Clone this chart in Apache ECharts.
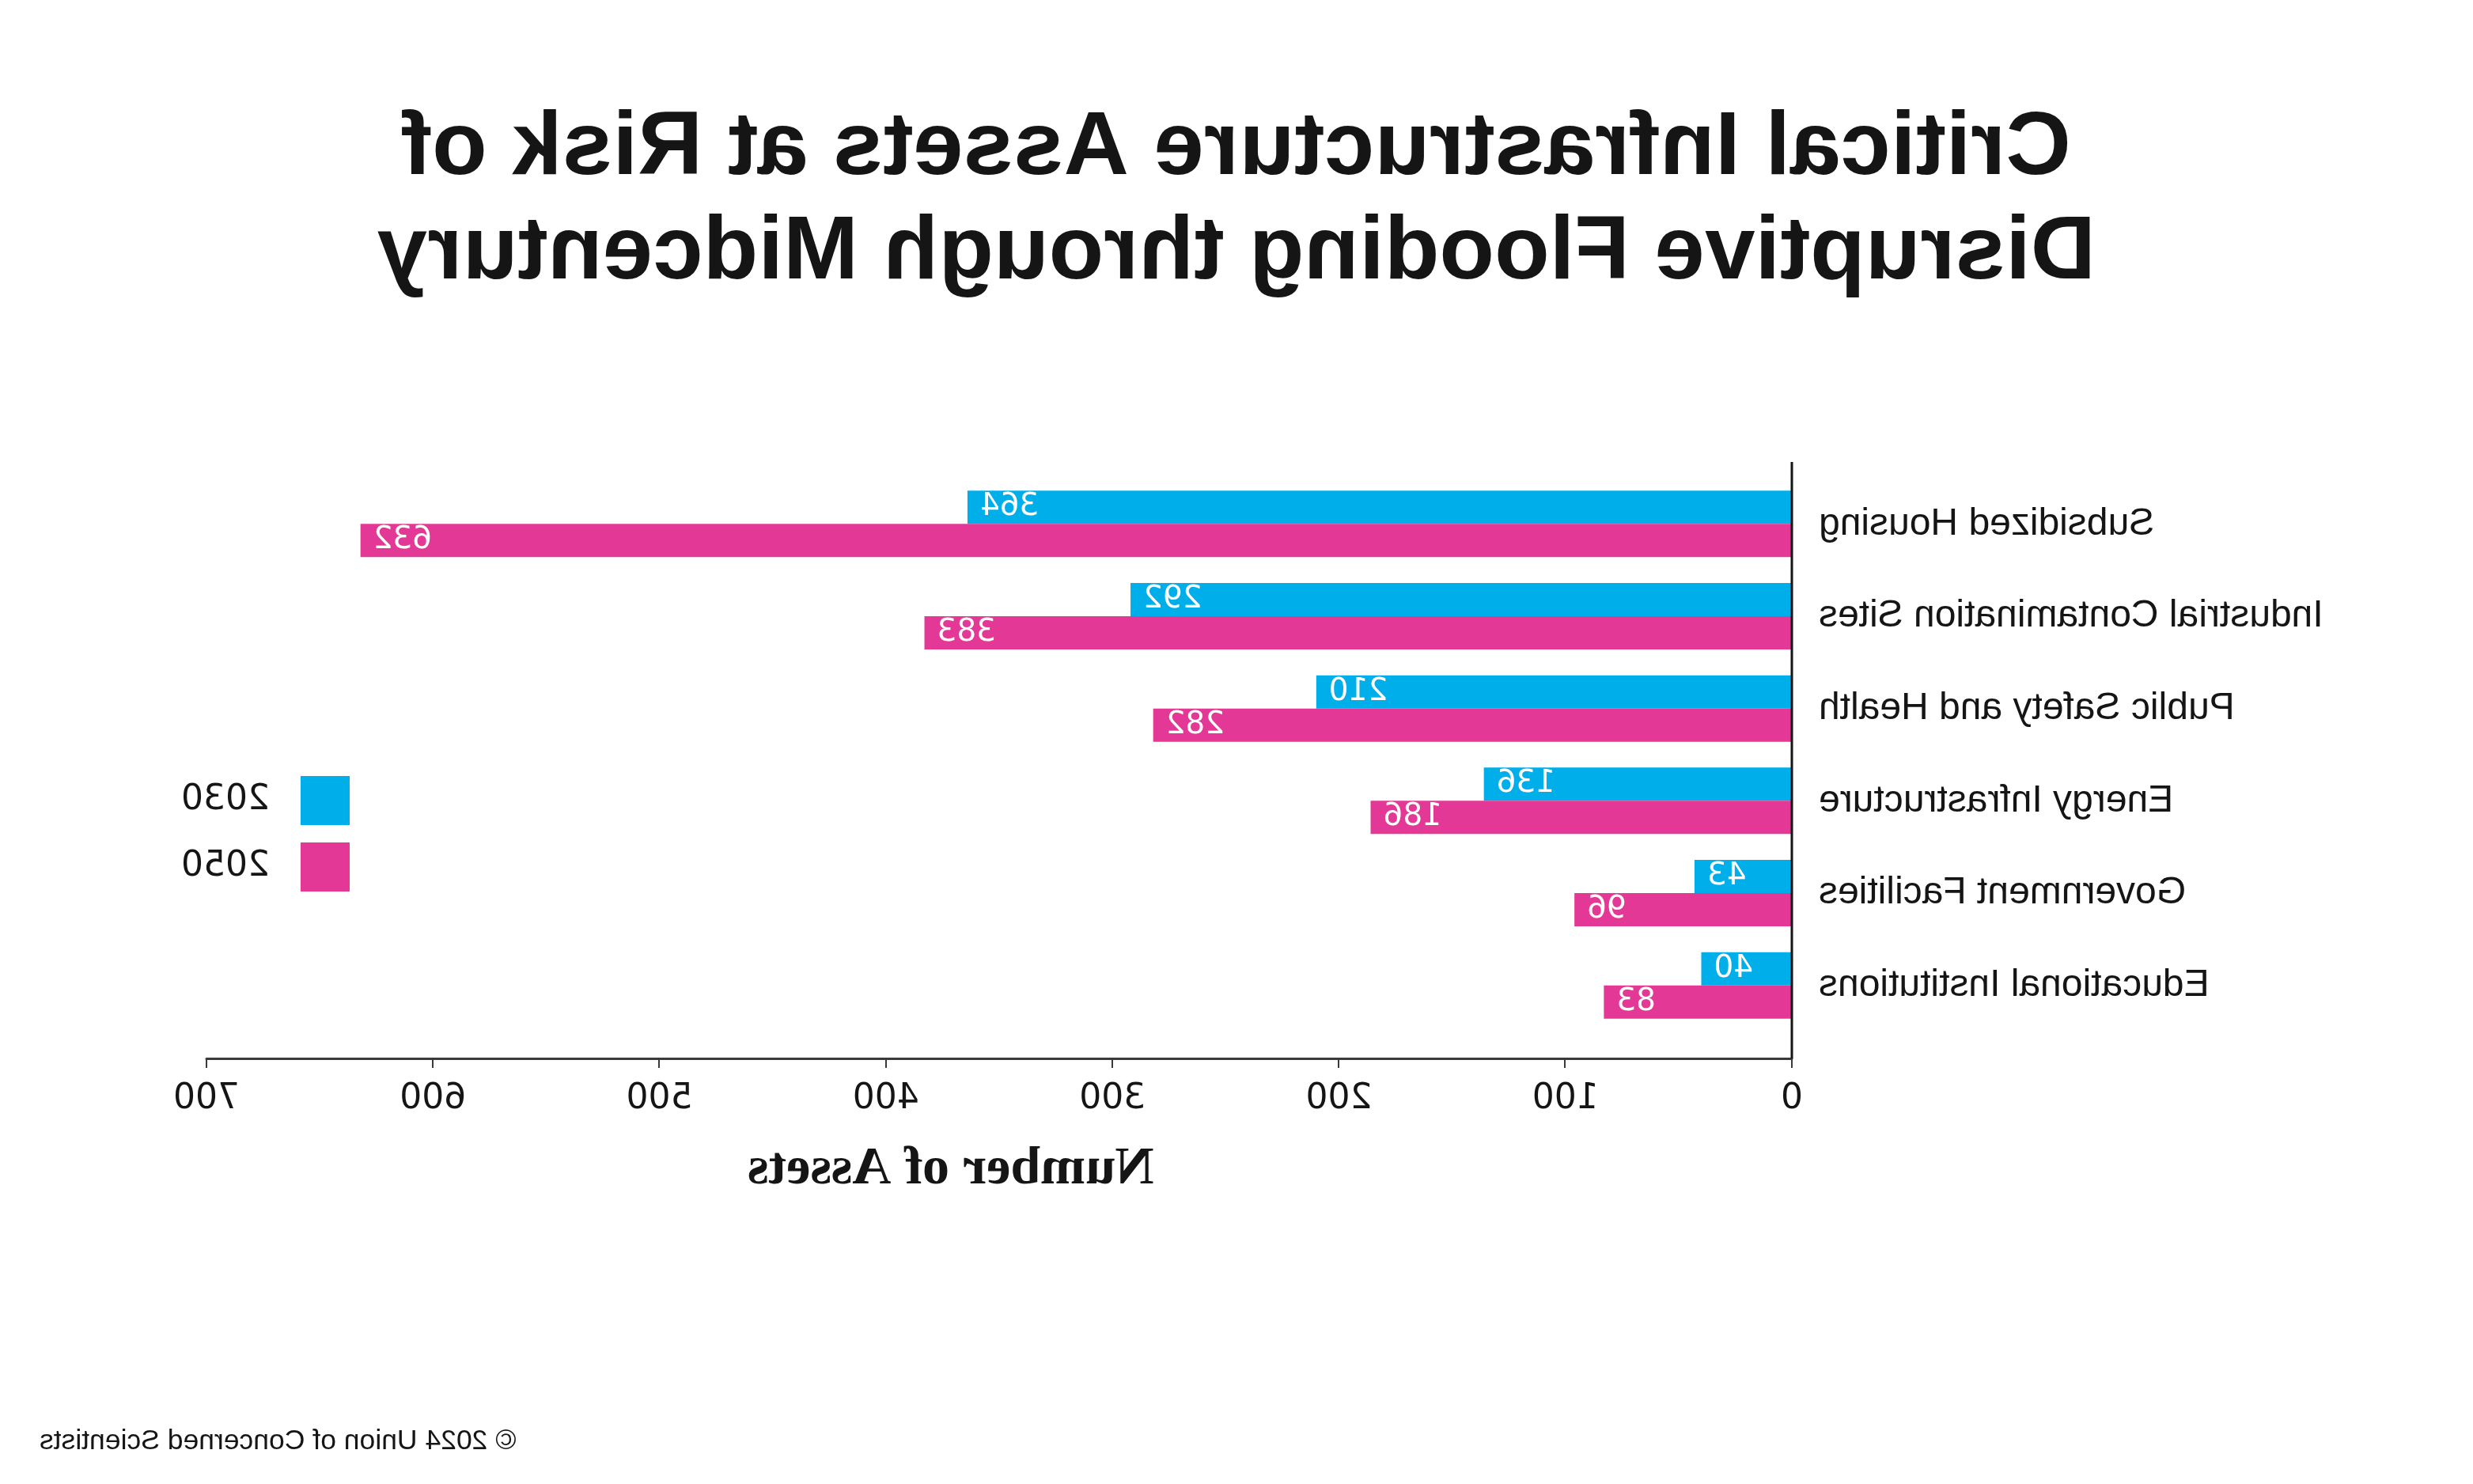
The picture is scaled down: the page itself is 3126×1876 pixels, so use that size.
<!DOCTYPE html>
<html>
<head>
<meta charset="utf-8">
<script src="https://cdn.jsdelivr.net/npm/echarts@6/dist/echarts.min.js"></script>
<style>
  html, body { margin: 0; padding: 0; background: #ffffff; }
  #chart { width: 3126px; height: 1876px; transform: scaleX(-1); transform-origin: 50% 50%; }
</style>
</head>
<body>
<div id="chart"></div>
<script>
const categories = ['Subsidized Housing', 'Industrial Contamination Sites', 'Public Safety and Health', 'Energy Infrastructure', 'Government Facilities', 'Educational Institutions'];
const seriesNames = ['2030', '2050'];
const values2030 = [364, 292, 210, 136, 43, 40];
const values2050 = [632, 383, 282, 186, 96, 83];
const xTicks = [0, 100, 200, 300, 400, 500, 600, 700];
const titleText = 'Critical Infrastructure Assets at Risk of\nDisruptive Flooding through Midcentury';
const axisName = 'Number of Assets';
const footerText = '\u00A9 2024 Union of Concerned Scientists';

const BLUE = '#00aeea';
const PINK = '#e33895';
const GRID = { left: 861, right: 261, top: 604, bottom: 572 };
const AXIS_OFFSET = 34;

const chart = echarts.init(document.getElementById('chart'), null, { renderer: 'canvas' });

const option = {
  backgroundColor: '#ffffff',
  animation: false,
  title: {
    text: titleText,
    left: 'center',
    top: 118,
    textStyle: {
      fontFamily: 'Liberation Sans',
      fontWeight: 'bold',
      fontSize: 114,
      lineHeight: 132,
      color: '#151515'
    }
  },
  legend: {
    data: seriesNames,
    orient: 'vertical',
    left: 2679,
    top: 976,
    itemWidth: 62,
    itemHeight: 62,
    itemGap: 22,
    icon: 'rect',
    selectedMode: false,
    textStyle: {
      fontFamily: 'DejaVu Sans',
      fontSize: 44,
      color: '#151515',
      padding: [0, 0, 0, 34]
    }
  },
  grid: GRID,
  xAxis: {
    type: 'value',
    min: xTicks[0],
    max: xTicks[xTicks.length - 1],
    interval: 100,
    offset: AXIS_OFFSET,
    axisLine: { show: true, lineStyle: { color: '#3a3a3a', width: 3 } },
    axisTick: { show: true, length: 12, lineStyle: { color: '#3a3a3a', width: 2 } },
    axisLabel: {
      margin: 30,
      fontFamily: 'DejaVu Sans',
      fontSize: 44,
      color: '#151515'
    },
    splitLine: { show: false },
    name: axisName,
    nameLocation: 'middle',
    nameGap: 106,
    nameTextStyle: {
      fontFamily: 'Liberation Serif',
      fontWeight: 'bold',
      fontSize: 68,
      color: '#151515',
      padding: [0, 0, 0, 122]
    }
  },
  yAxis: {
    type: 'category',
    inverse: true,
    data: categories,
    axisLine: { show: false },
    axisTick: { show: false },
    axisLabel: {
      margin: 34,
      fontFamily: 'Liberation Sans',
      fontSize: 48,
      color: '#151515'
    }
  },
  series: [
    {
      name: seriesNames[0],
      type: 'bar',
      data: values2030,
      barWidth: 42,
      barGap: '0%',
      itemStyle: { color: BLUE },
      label: {
        show: true,
        position: 'insideRight',
        distance: 16,
        color: '#ffffff',
        fontFamily: 'DejaVu Sans',
        fontSize: 39
      }
    },
    {
      name: seriesNames[1],
      type: 'bar',
      data: values2050,
      barWidth: 42,
      barGap: '0%',
      itemStyle: { color: PINK },
      label: {
        show: true,
        position: 'insideRight',
        distance: 16,
        color: '#ffffff',
        fontFamily: 'DejaVu Sans',
        fontSize: 39
      }
    }
  ]
};

chart.setOption(option);

const zeroX = chart.convertToPixel({ xAxisIndex: 0 }, 0);
const chartH = 1876;
const axisY = chartH - GRID.bottom + AXIS_OFFSET;
chart.setOption({
  graphic: [
    {
      type: 'line',
      shape: { x1: zeroX, y1: GRID.top - 20, x2: zeroX, y2: axisY },
      style: { stroke: '#151515', lineWidth: 3 },
      z: 10
    },
    {
      type: 'text',
      right: 50,
      top: 1804,
      style: {
        text: footerText,
        fontFamily: 'Liberation Sans',
        fontSize: 35.5,
        fill: '#151515'
      }
    }
  ]
});
</script>
</body>
</html>
